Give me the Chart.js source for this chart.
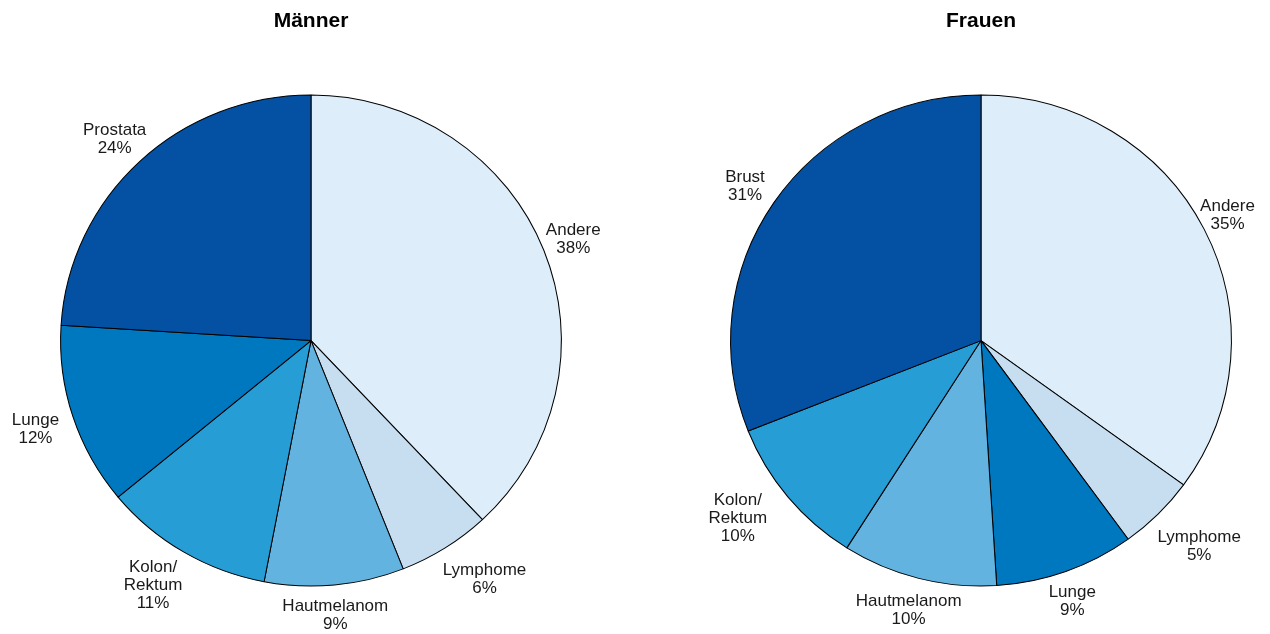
<!DOCTYPE html>
<html>
<head>
<meta charset="utf-8">
<script src="https://cdn.jsdelivr.net/npm/chart.js@4/dist/chart.umd.min.js"></script>
<style>
  html, body { margin: 0; padding: 0; background: #fff; }
  #wrap { position: relative; width: 1270px; height: 634px; }
  .box { position: absolute; top: 0; width: 635px; height: 634px; }
  #boxM { left: 0; }
  #boxF { left: 635px; }
</style>
</head>
<body>
<div id="wrap">
  <div class="box" id="boxM"><canvas id="chartM"></canvas></div>
  <div class="box" id="boxF"><canvas id="chartF"></canvas></div>
</div>
<script>
// Männer
const menCategories = ['Andere', 'Lymphome', 'Hautmelanom', 'Kolon/\nRektum', 'Lunge', 'Prostata'];
const menValues = [38, 6, 9, 11, 12, 24];

// Frauen
const womenCategories = ['Andere', 'Lymphome', 'Lunge', 'Hautmelanom', 'Kolon/\nRektum', 'Brust'];
const womenValues = [35, 5, 9, 10, 10, 31];

const colorFor = {
  'Andere': '#DDEDF9',
  'Lymphome': '#C6DEF0',
  'Hautmelanom': '#62B3E0',
  'Kolon/\nRektum': '#279DD6',
  'Lunge': '#0078BF',
  'Prostata': '#0451A3',
  'Brust': '#0451A3'
};

const FONT = '"Liberation Sans", Arial, Helvetica, sans-serif';
const STRETCH_X = 1.02;   // pie is drawn a touch wider than tall

// Horizontal stretch of the pie around its centre
const pieStretch = {
  id: 'pieStretch',
  beforeDatasetsDraw(chart) {
    const arc = chart.getDatasetMeta(0).data[0];
    const ctx = chart.ctx;
    ctx.save();
    ctx.translate(arc.x, arc.y);
    ctx.scale(STRETCH_X, 1);
    ctx.translate(-arc.x, -arc.y);
  },
  afterDatasetsDraw(chart) {
    chart.ctx.restore();
  }
};

// Draws "name\nvalue%" labels outside each slice
const outsideLabels = {
  id: 'outsideLabels',
  afterDraw(chart, args, opts) {
    const ctx = chart.ctx;
    const meta = chart.getDatasetMeta(0);
    const labels = chart.data.labels;
    const values = chart.data.datasets[0].data;
    const nudge = opts.nudge || [];
    ctx.save();
    ctx.font = '17px ' + FONT;
    ctx.fillStyle = '#1a1a1a';
    ctx.textAlign = 'center';
    ctx.textBaseline = 'middle';
    const lh = 18;
    meta.data.forEach((arc, i) => {
      const p = arc.getProps(['x', 'y', 'startAngle', 'endAngle', 'outerRadius'], true);
      const mid = (p.startAngle + p.endAngle) / 2;
      const lines = labels[i].split('\n').concat([values[i] + '%']);
      let w = 0;
      lines.forEach(l => { w = Math.max(w, ctx.measureText(l).width); });
      const h = lines.length * lh;
      const c = Math.cos(mid), s = Math.sin(mid);
      const ext = Math.abs(c) * w / 2 + Math.abs(s) * h / 2 + 6;
      const n = nudge[i] || [0, 0];
      const cx = p.x + c * (p.outerRadius * STRETCH_X + ext) + n[0];
      const cy = p.y + s * (p.outerRadius + ext) + n[1] + 2;
      lines.forEach((l, k) => {
        ctx.fillText(l, cx, cy - h / 2 + lh / 2 + k * lh);
      });
    });
    ctx.restore();
  }
};

function makePie(id, title, cats, vals, padLeft, padRight, nudge) {
  new Chart(document.getElementById(id), {
    type: 'pie',
    data: {
      labels: cats,
      datasets: [{
        data: vals,
        backgroundColor: cats.map(c => colorFor[c]),
        borderColor: '#000',
        borderWidth: 1
      }]
    },
    options: {
      responsive: true,
      maintainAspectRatio: false,
      animation: false,
      layout: { padding: { left: padLeft, right: padRight, top: 0, bottom: 47 } },
      plugins: {
        legend: { display: false },
        tooltip: { enabled: false },
        title: {
          display: true,
          text: title,
          color: '#000',
          font: { family: FONT, size: 21, weight: 'bold', lineHeight: 1.2 },
          padding: { top: 9, bottom: 60 }
        },
        outsideLabels: { nudge: nudge }
      }
    },
    plugins: [pieStretch, outsideLabels]
  });
}

makePie('chartM', 'Männer', menCategories, menValues, 65, 78,
  [[-6, 1], [16, -7], [-2, 0], [-8, -7], [-5, 0], [3, 5]]);
makePie('chartF', 'Frauen', womenCategories, womenValues, 100, 43,
  [[-11, 2], [7, -4], [-4, -1], [-1, -6], [-15, -10], [-2, 0]]);
</script>
</body>
</html>
